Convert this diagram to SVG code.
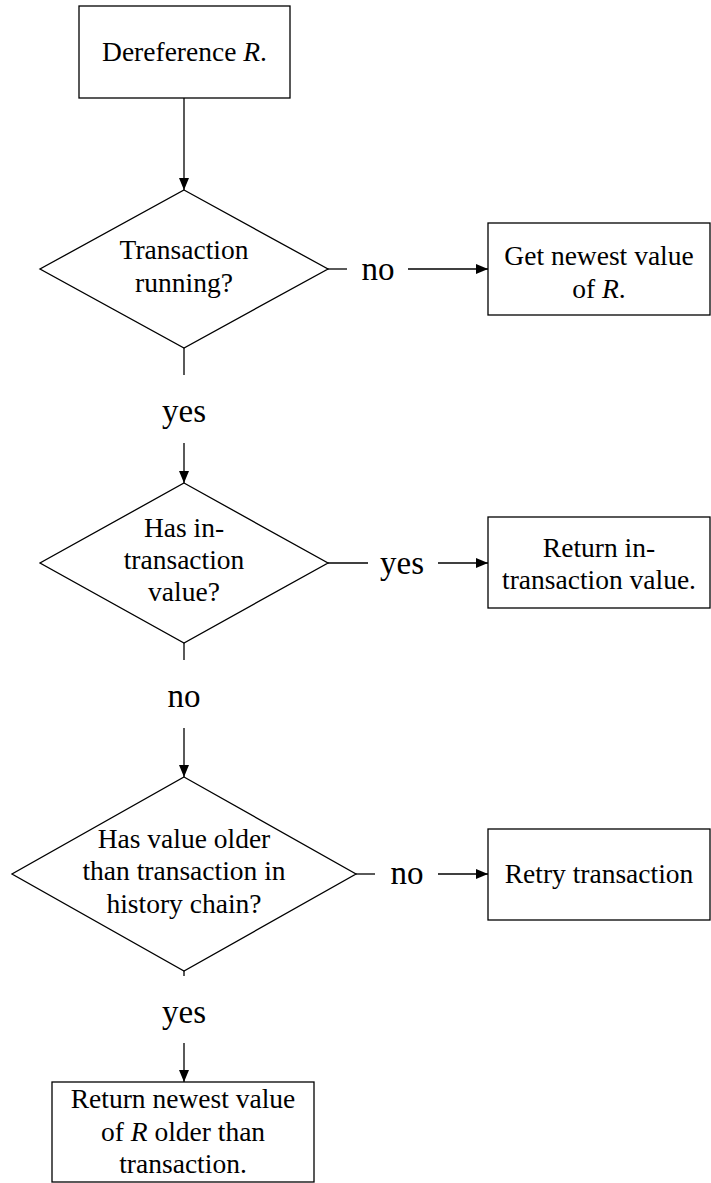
<svg xmlns="http://www.w3.org/2000/svg" width="711" height="1183" viewBox="0 0 711 1183">
  <style>
    .shape { fill: #ffffff; stroke: #000000; stroke-width: 1.3; }
    .edge { fill: none; stroke: #000000; stroke-width: 1.3; }
    .txt { font-family: 'Liberation Serif', Tinos, 'Times New Roman', serif; font-size: 27.5px; fill: #000000; text-anchor: middle; }
    .lbl { font-family: 'Liberation Serif', Tinos, 'Times New Roman', serif; font-size: 33px; fill: #000000; text-anchor: middle; }
    .it { font-style: italic; }
  </style>
  <defs>
    <marker id="arrow" viewBox="0 0 12 10" refX="12" refY="5" markerWidth="12" markerHeight="10" markerUnits="userSpaceOnUse" orient="auto">
      <path d="M0,0 L12,5 L0,10 Z" fill="#000000"/>
    </marker>
  </defs>

  <rect width="711" height="1183" fill="#ffffff"/>

  <!-- connectors and their labels -->
  <g id="connectors">
    <line class="edge" x1="184" y1="98" x2="184" y2="190" marker-end="url(#arrow)"/>

    <line class="edge" x1="326" y1="269" x2="347" y2="269"/>
    <text class="lbl" x="378" y="280">no</text>
    <line class="edge" x1="408" y1="269" x2="488" y2="269" marker-end="url(#arrow)"/>

    <line class="edge" x1="184" y1="348" x2="184" y2="375"/>
    <text class="lbl" x="184" y="422">yes</text>
    <line class="edge" x1="184" y1="443" x2="184" y2="483" marker-end="url(#arrow)"/>

    <line class="edge" x1="328" y1="563" x2="368" y2="563"/>
    <text class="lbl" x="402" y="574">yes</text>
    <line class="edge" x1="438" y1="563" x2="488" y2="563" marker-end="url(#arrow)"/>

    <line class="edge" x1="184" y1="643" x2="184" y2="660"/>
    <text class="lbl" x="184" y="707">no</text>
    <line class="edge" x1="184" y1="728" x2="184" y2="777" marker-end="url(#arrow)"/>

    <line class="edge" x1="356" y1="874" x2="375" y2="874"/>
    <text class="lbl" x="407" y="884">no</text>
    <line class="edge" x1="438" y1="874" x2="488" y2="874" marker-end="url(#arrow)"/>

    <line class="edge" x1="184" y1="971" x2="184" y2="976"/>
    <text class="lbl" x="184" y="1023">yes</text>
    <line class="edge" x1="184" y1="1043" x2="184" y2="1082" marker-end="url(#arrow)"/>
  </g>

  <!-- start -->
  <g id="deref">
    <rect class="shape" x="79" y="6" width="211" height="92"/>
    <text class="txt" x="184.5" y="61">Dereference <tspan class="it">R</tspan>.</text>
  </g>

  <!-- decisions and outcomes -->
  <g id="running">
    <polygon class="shape" points="184,190 328,269 184,348 40,269"/>
    <text class="txt" x="184" y="259">Transaction</text>
    <text class="txt" x="184" y="292">running?</text>
  </g>

  <g id="newest">
    <rect class="shape" x="488" y="223" width="222" height="92"/>
    <text class="txt" x="599" y="265">Get newest value</text>
    <text class="txt" x="599" y="298">of <tspan class="it">R</tspan>.</text>
  </g>

  <g id="has-tx-value">
    <polygon class="shape" points="184,483 328,563 184,643 40,563"/>
    <text class="txt" x="184" y="537">Has in-</text>
    <text class="txt" x="184" y="569">transaction</text>
    <text class="txt" x="184" y="601">value?</text>
  </g>

  <g id="return-tx">
    <rect class="shape" x="488" y="517" width="222" height="91"/>
    <text class="txt" x="599" y="557">Return in-</text>
    <text class="txt" x="599" y="589">transaction value.</text>
  </g>

  <g id="has-older">
    <polygon class="shape" points="184,777 356,874 184,971 12,874"/>
    <text class="txt" x="184" y="848">Has value older</text>
    <text class="txt" x="184" y="880">than transaction in</text>
    <text class="txt" x="184" y="913">history chain?</text>
  </g>

  <g id="retry">
    <rect class="shape" x="488" y="829" width="222" height="91"/>
    <text class="txt" x="599" y="883">Retry transaction</text>
  </g>

  <g id="return-older">
    <rect class="shape" x="52" y="1082" width="262" height="100"/>
    <text class="txt" x="183" y="1108">Return newest value</text>
    <text class="txt" x="183" y="1141">of <tspan class="it">R</tspan> older than</text>
    <text class="txt" x="183" y="1173">transaction.</text>
  </g>
</svg>
